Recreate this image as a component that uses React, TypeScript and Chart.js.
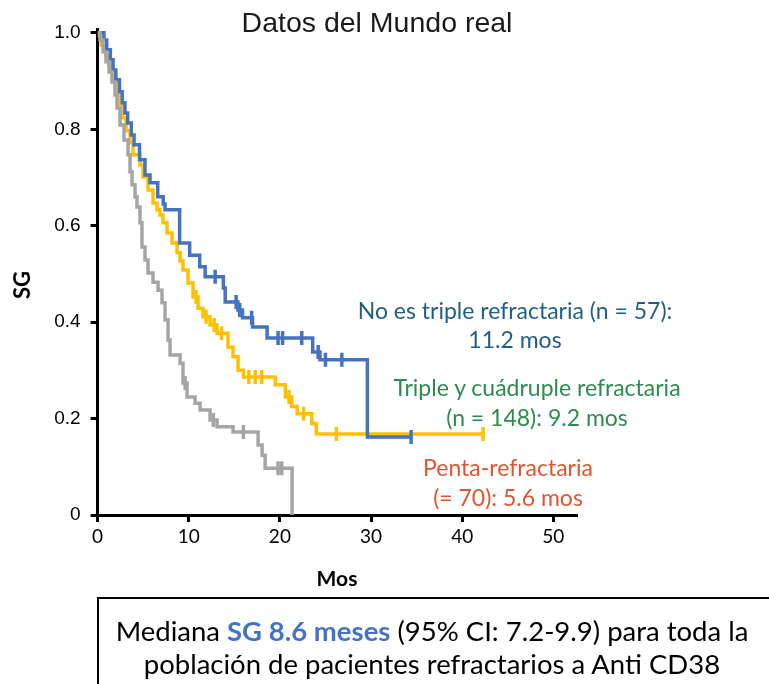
import React, { useEffect, useRef } from "react";
import { Chart, registerables } from "chart.js";

Chart.register(...registerables);

// Axis ticks
const xTickValues = [0, 10, 20, 30, 40, 50];
const yTickValues = [0, 0.2, 0.4, 0.6, 0.8, 1.0];
const yTickLabels = ["0", "0.2", "0.4", "0.6", "0.8", "1.0"];

// No es triple refractaria (n = 57)
const noTripleMonths = [0, 0.7, 1.0, 1.4, 1.7, 2.0, 2.4, 2.7, 3.0, 3.3, 3.7, 4.0, 4.6, 5.2, 5.75, 6.6, 7.2, 7.4, 9.0, 10.1, 11.2, 11.8, 13.8, 14.0, 15.4, 15.9, 17.0, 18.6, 23.6, 24.4, 29.6, 34.4];
const noTripleSurvival = [1.0, 0.985, 0.965, 0.944, 0.923, 0.903, 0.878, 0.855, 0.834, 0.813, 0.788, 0.768, 0.737, 0.705, 0.689, 0.66, 0.645, 0.633, 0.564, 0.539, 0.515, 0.494, 0.471, 0.442, 0.425, 0.409, 0.39, 0.367, 0.338, 0.322, 0.162, 0.162];
const noTripleCensored = [12.9, 15.2, 15.6, 16.9, 19.8, 20.3, 22.4, 24.2, 25.0, 26.8, 34.4];

// Triple y cuádruple refractaria (n = 148)
const tripleMonths = [0, 0.15, 0.37, 0.92, 1.25, 1.58, 2.02, 2.35, 2.68, 3.12, 3.56, 3.89, 4.65, 4.98, 5.53, 6.08, 6.52, 6.85, 7.18, 7.62, 8.17, 8.72, 9.05, 9.37, 9.92, 10.47, 11.02, 11.57, 12.34, 13.1, 14.31, 14.86, 15.41, 16.0, 19.5, 20.6, 21.3, 21.9, 23.5, 24.0, 42.3];
const tripleSurvival = [1.0, 0.994, 0.975, 0.954, 0.934, 0.907, 0.88, 0.851, 0.824, 0.797, 0.772, 0.747, 0.726, 0.701, 0.674, 0.647, 0.633, 0.622, 0.606, 0.585, 0.564, 0.544, 0.527, 0.508, 0.481, 0.452, 0.429, 0.411, 0.394, 0.377, 0.348, 0.328, 0.3, 0.286, 0.27, 0.245, 0.225, 0.21, 0.19, 0.168, 0.168];
const tripleCensored = [10.8, 11.9, 12.8, 13.6, 16.6, 17.3, 18.0, 21.0, 22.6, 26.2, 42.3];

// Penta-refractaria (n = 70)
const pentaMonths = [0, 0.26, 0.59, 0.92, 1.25, 1.58, 1.91, 2.13, 2.46, 2.9, 3.34, 3.56, 3.78, 4.11, 4.32, 4.65, 4.87, 5.2, 5.53, 6.08, 6.63, 7.07, 7.4, 7.73, 7.95, 9.05, 9.37, 9.81, 10.69, 11.24, 12.34, 13.11, 14.86, 17.61, 18.05, 18.38, 21.34];
const pentaSurvival = [1.0, 0.985, 0.961, 0.94, 0.919, 0.898, 0.871, 0.844, 0.809, 0.778, 0.747, 0.712, 0.685, 0.66, 0.639, 0.606, 0.556, 0.529, 0.502, 0.483, 0.466, 0.44, 0.405, 0.363, 0.332, 0.315, 0.274, 0.245, 0.232, 0.218, 0.197, 0.183, 0.172, 0.145, 0.124, 0.097, 0];
const pentaCensored = [9.6, 12.7, 16.0, 19.8, 20.2];

const BLUE = "#4472C4";
const YELLOW = "#FFC000";
const GREY = "#A5A5A5";

const curve = (months: number[], surv: number[]) =>
  months.map((t, i) => ({ x: t, y: surv[i] }));

// Survival value of the step curve at time t (for placing censor ticks)
const survivalAt = (months: number[], surv: number[], t: number) => {
  let s = surv[0];
  for (let i = 0; i < months.length; i++) {
    if (months[i] <= t) s = surv[i];
  }
  return s;
};

const censorPoints = (months: number[], surv: number[], times: number[]) =>
  times.map((t) => ({ x: t, y: survivalAt(months, surv, t) }));

const lineSet = (data: any[], color: string) => ({
  type: "line" as const,
  data,
  borderColor: color,
  borderWidth: 3.5,
  stepped: true,
  pointRadius: 0,
  fill: false,
  tension: 0,
});

const censorSet = (data: any[], color: string) => ({
  type: "scatter" as const,
  data,
  borderColor: color,
  backgroundColor: color,
  pointStyle: "line" as const,
  rotation: 90,
  pointRadius: 7,
  pointBorderWidth: 3.5,
  borderWidth: 3.5,
  showLine: false,
});

const CALIBRI = "Lato, 'Open Sans', sans-serif";

function TextLine(props: {
  cx: number;
  cy: number;
  size: number;
  color: string;
  bold?: boolean;
  font?: string;
  children: React.ReactNode;
}) {
  const { cx, cy, size, color, bold, font, children } = props;
  return (
    <div
      style={{
        position: "absolute",
        left: cx - 400,
        width: 800,
        top: cy - size * 0.6,
        height: size * 1.2,
        lineHeight: `${size * 1.2}px`,
        fontSize: size,
        fontFamily: font || CALIBRI,
        fontWeight: bold ? 700 : 400,
        color,
        textAlign: "center",
        whiteSpace: "nowrap",
      }}
    >
      {children}
    </div>
  );
}

export default function App() {
  const canvasRef = useRef<HTMLCanvasElement | null>(null);

  useEffect(() => {
    if (!canvasRef.current) return;
    const chart = new Chart(canvasRef.current, {
      type: "line",
      data: {
        datasets: [
          lineSet(curve(pentaMonths, pentaSurvival), GREY),
          censorSet(censorPoints(pentaMonths, pentaSurvival, pentaCensored), GREY),
          lineSet(curve(noTripleMonths, noTripleSurvival), BLUE),
          censorSet(censorPoints(noTripleMonths, noTripleSurvival, noTripleCensored), BLUE),
          lineSet(curve(tripleMonths, tripleSurvival), YELLOW),
          censorSet(censorPoints(tripleMonths, tripleSurvival, tripleCensored), YELLOW),
        ] as any,
      },
      options: {
        animation: false,
        responsive: true,
        maintainAspectRatio: false,
        layout: { padding: { left: 0, top: 29, right: 192, bottom: 0 } },
        plugins: {
          legend: { display: false },
          tooltip: { enabled: false },
          title: { display: false },
        },
        scales: {
          x: {
            type: "linear",
            min: 0,
            max: 52.6,
            afterFit: (scale: any) => {
              scale.height = 85;
            },
            afterBuildTicks: (scale: any) => {
              scale.ticks = xTickValues.map((v) => ({ value: v }));
            },
            ticks: {
              color: "#000",
              font: { family: CALIBRI, size: 19 },
              padding: 3,
              maxRotation: 0,
              callback: (v: any) => String(v),
            },
            grid: {
              display: true,
              drawOnChartArea: false,
              drawTicks: true,
              tickLength: 7,
              tickWidth: 3,
              tickColor: "#000",
            },
            border: { display: true, color: "#000", width: 3 },
          },
          y: {
            type: "linear",
            min: 0,
            max: 1.008,
            afterFit: (scale: any) => {
              scale.width = 97.6;
            },
            afterBuildTicks: (scale: any) => {
              scale.ticks = yTickValues.map((v) => ({ value: v }));
            },
            ticks: {
              color: "#000",
              font: { family: "'Liberation Sans', Arial, sans-serif", size: 19 },
              padding: 10,
              callback: (v: any) => {
                const i = yTickValues.findIndex((t) => Math.abs(t - v) < 1e-6);
                return i >= 0 ? yTickLabels[i] : "";
              },
            },
            grid: {
              display: true,
              drawOnChartArea: false,
              drawTicks: true,
              tickLength: 7,
              tickWidth: 3,
              tickColor: "#000",
            },
            border: { display: true, color: "#000", width: 3 },
          },
        },
      } as any,
    });
    return () => chart.destroy();
  }, []);

  return (
    <div
      style={{
        position: "fixed",
        left: 0,
        top: 0,
        width: 769,
        height: 684,
        overflow: "hidden",
        background: "#fff",
      }}
    >
      <div style={{ position: "absolute", left: 0, top: 0, width: 769, height: 600 }}>
        <canvas ref={canvasRef} />
      </div>

      <TextLine cx={377} cy={22} size={28.5} color="#1a1a1a" font="'Liberation Sans', Arial, sans-serif">
        Datos del Mundo real
      </TextLine>

      <div
        style={{
          position: "absolute",
          left: 22 - 40,
          top: 285 - 13,
          width: 80,
          height: 26,
          lineHeight: "26px",
          textAlign: "center",
          fontFamily: CALIBRI,
          fontWeight: 700,
          fontSize: 22,
          color: "#000",
          transform: "rotate(-90deg)",
        }}
      >
        SG
      </div>
      <TextLine cx={337} cy={578} size={21} bold color="#000">
        Mos
      </TextLine>

      <TextLine cx={515} cy={311} size={23} color="#1F5E87">
        No es triple refractaria (n = 57):
      </TextLine>
      <TextLine cx={515} cy={340} size={23} color="#1F5E87">
        11.2 mos
      </TextLine>
      <TextLine cx={537} cy={388} size={23} color="#2E8B4F">
        Triple y cuádruple refractaria
      </TextLine>
      <TextLine cx={537} cy={418} size={23} color="#2E8B4F">
        (n = 148): 9.2 mos
      </TextLine>
      <TextLine cx={508} cy={468} size={23} color="#E0552F">
        Penta-refractaria
      </TextLine>
      <TextLine cx={508} cy={498} size={23} color="#E0552F">
        (= 70): 5.6 mos
      </TextLine>

      <div
        style={{
          position: "absolute",
          left: 97,
          top: 597,
          width: 760,
          height: 140,
          border: "2px solid #000",
          boxSizing: "border-box",
        }}
      />
      <TextLine cx={432} cy={630} size={27.5} color="#000">
        Mediana <span style={{ color: BLUE, fontWeight: 700 }}>SG 8.6 meses</span> (95% CI: 7.2-9.9) para toda la
      </TextLine>
      <TextLine cx={432} cy={663} size={27.5} color="#000">
        población de pacientes refractarios a Anti CD38
      </TextLine>
    </div>
  );
}
